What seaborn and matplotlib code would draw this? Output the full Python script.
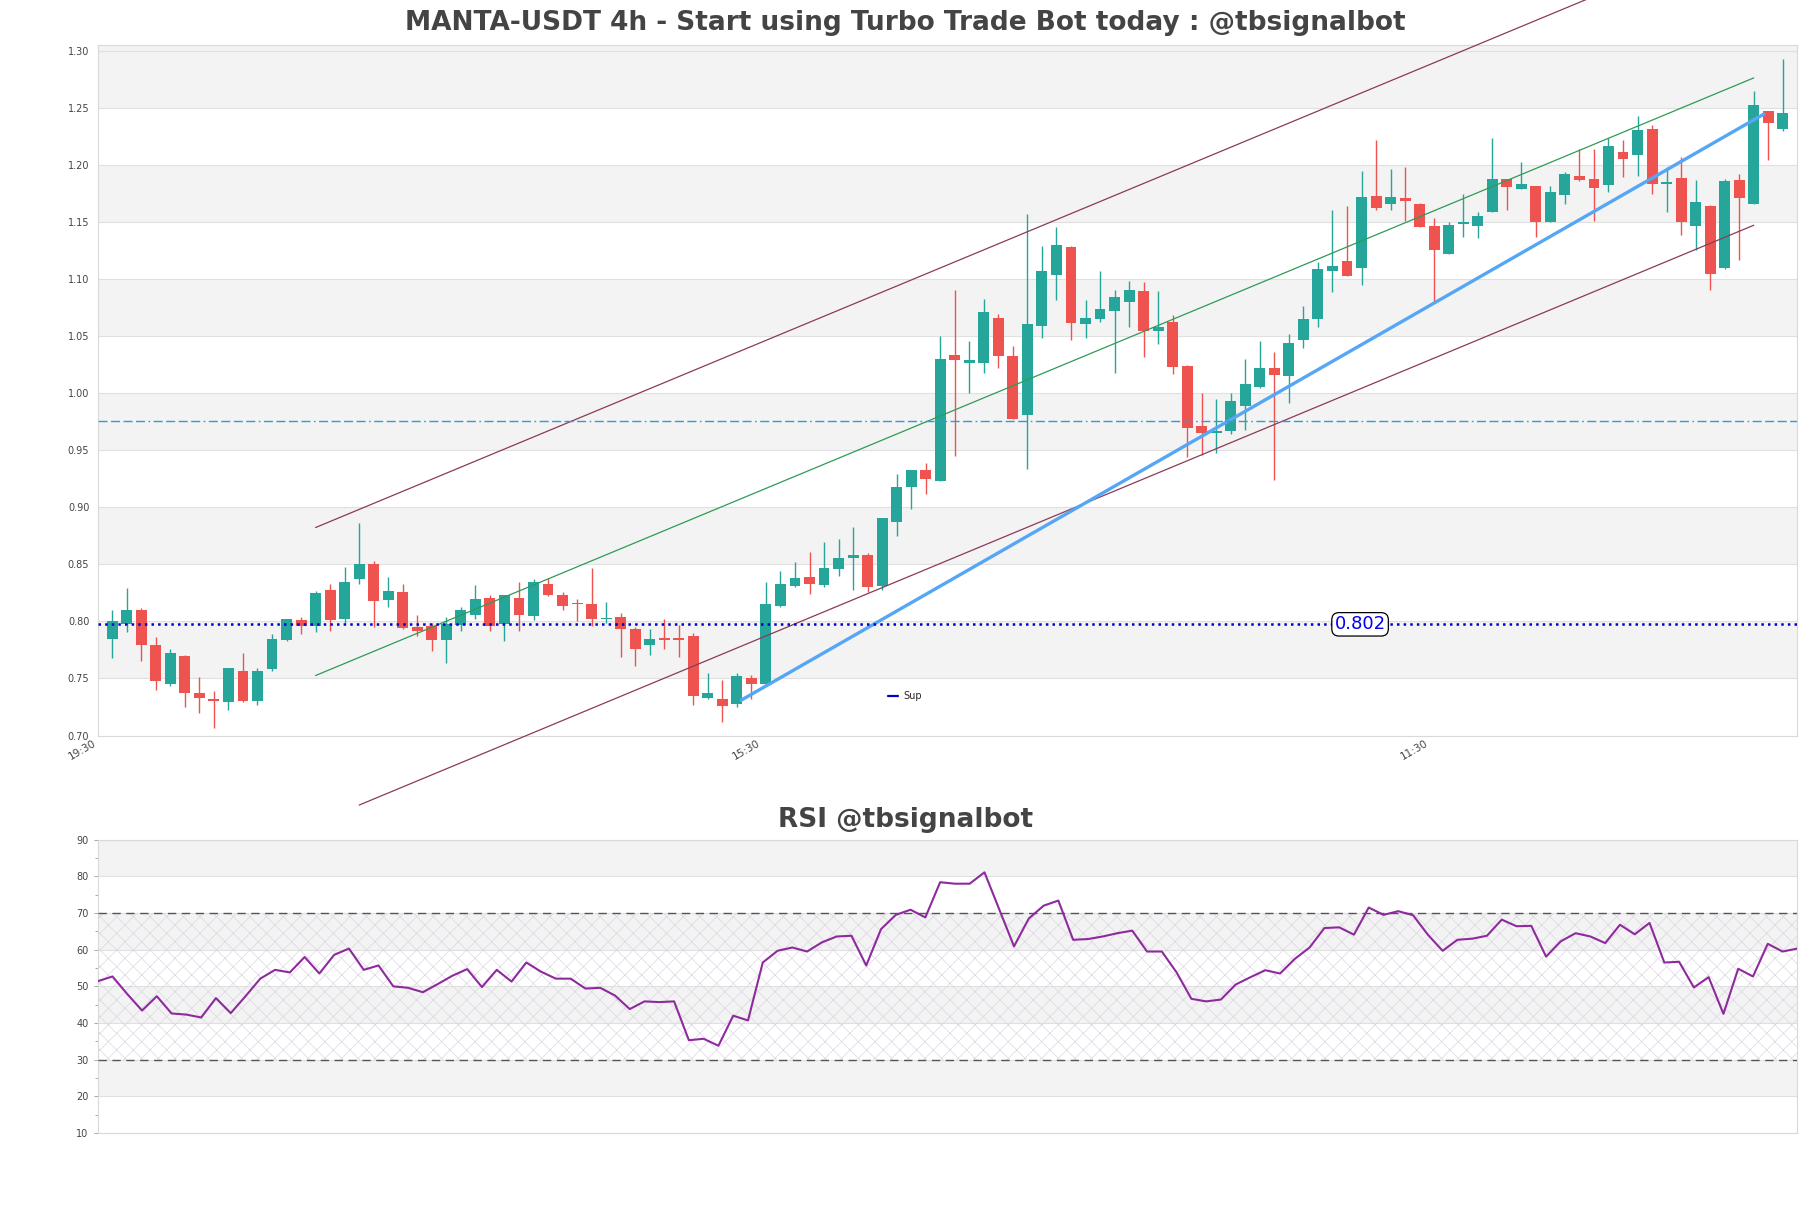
import numpy as np
import pandas as pd
import matplotlib
matplotlib.use("Agg")
import matplotlib.pyplot as plt
import seaborn as sns

# ---------------- data ----------------
opens = [0.785, 0.798, 0.810, 0.779, 0.745, 0.770, 0.737, 0.732, 0.729, 0.757,
         0.730, 0.758, 0.784, 0.801, 0.796, 0.828, 0.802, 0.837, 0.850, 0.819,
         0.826, 0.795, 0.796, 0.784, 0.797, 0.806, 0.821, 0.798, 0.821, 0.805,
         0.833, 0.823, 0.816, 0.815, 0.802, 0.804, 0.793, 0.779, 0.785, 0.785,
         0.787, 0.733, 0.732, 0.728, 0.750, 0.745, 0.814, 0.831, 0.839, 0.832,
         0.846, 0.856, 0.858, 0.831, 0.887, 0.918, 0.933, 0.923, 1.034, 1.027,
         1.027, 1.066, 1.033, 0.981, 1.059, 1.104, 1.128, 1.061, 1.065, 1.072,
         1.080, 1.090, 1.055, 1.063, 1.024, 0.971, 0.965, 0.967, 0.989, 1.006,
         1.022, 1.015, 1.047, 1.065, 1.107, 1.116, 1.110, 1.173, 1.166, 1.171,
         1.166, 1.147, 1.122, 1.149, 1.147, 1.159, 1.188, 1.179, 1.182, 1.150,
         1.174, 1.191, 1.188, 1.183, 1.212, 1.209, 1.232, 1.184, 1.189, 1.147,
         1.164, 1.110, 1.187, 1.166, 1.248, 1.232]
highs = [0.810, 0.829, 0.812, 0.786, 0.776, 0.771, 0.751, 0.739, 0.759, 0.772,
         0.759, 0.789, 0.802, 0.804, 0.827, 0.833, 0.848, 0.886, 0.853, 0.839,
         0.833, 0.806, 0.799, 0.804, 0.813, 0.832, 0.823, 0.823, 0.835, 0.837,
         0.838, 0.826, 0.820, 0.847, 0.817, 0.807, 0.795, 0.793, 0.802, 0.797,
         0.790, 0.755, 0.749, 0.755, 0.753, 0.835, 0.844, 0.852, 0.861, 0.870,
         0.872, 0.883, 0.860, 0.891, 0.929, 0.933, 0.939, 1.050, 1.091, 1.046,
         1.083, 1.070, 1.042, 1.157, 1.129, 1.146, 1.129, 1.082, 1.107, 1.091,
         1.099, 1.098, 1.090, 1.069, 1.025, 1.000, 0.995, 1.000, 1.030, 1.046,
         1.036, 1.052, 1.077, 1.115, 1.161, 1.164, 1.195, 1.222, 1.197, 1.199,
         1.167, 1.154, 1.150, 1.175, 1.159, 1.224, 1.188, 1.203, 1.182, 1.182,
         1.194, 1.214, 1.214, 1.224, 1.222, 1.243, 1.235, 1.199, 1.207, 1.187,
         1.165, 1.188, 1.192, 1.265, 1.248, 1.293]
lows = [0.768, 0.791, 0.765, 0.740, 0.743, 0.725, 0.720, 0.707, 0.722, 0.729,
        0.727, 0.757, 0.783, 0.789, 0.791, 0.792, 0.799, 0.833, 0.795, 0.813,
        0.793, 0.787, 0.774, 0.764, 0.792, 0.802, 0.792, 0.783, 0.792, 0.801,
        0.822, 0.810, 0.800, 0.796, 0.799, 0.769, 0.761, 0.771, 0.776, 0.769,
        0.727, 0.732, 0.712, 0.725, 0.732, 0.744, 0.813, 0.830, 0.824, 0.830,
        0.840, 0.828, 0.826, 0.828, 0.875, 0.899, 0.912, 0.923, 0.945, 1.000,
        1.018, 1.022, 0.978, 0.934, 1.049, 1.082, 1.047, 1.049, 1.063, 1.018,
        1.058, 1.032, 1.043, 1.017, 0.944, 0.946, 0.948, 0.964, 0.968, 1.005,
        0.924, 0.992, 1.040, 1.058, 1.089, 1.103, 1.095, 1.161, 1.161, 1.151,
        1.146, 1.079, 1.122, 1.137, 1.136, 1.159, 1.161, 1.179, 1.137, 1.150,
        1.166, 1.186, 1.151, 1.177, 1.190, 1.191, 1.175, 1.159, 1.139, 1.126,
        1.091, 1.109, 1.117, 1.166, 1.205, 1.230]
closes = [0.800, 0.810, 0.779, 0.748, 0.772, 0.737, 0.733, 0.730, 0.759, 0.730,
          0.757, 0.785, 0.802, 0.796, 0.825, 0.801, 0.835, 0.850, 0.818, 0.827,
          0.794, 0.792, 0.784, 0.798, 0.810, 0.820, 0.796, 0.823, 0.806, 0.835,
          0.823, 0.814, 0.815, 0.802, 0.803, 0.793, 0.776, 0.785, 0.784, 0.784,
          0.735, 0.737, 0.726, 0.752, 0.745, 0.815, 0.833, 0.838, 0.833, 0.847,
          0.856, 0.858, 0.830, 0.891, 0.918, 0.933, 0.925, 1.030, 1.029, 1.029,
          1.071, 1.033, 0.978, 1.061, 1.107, 1.130, 1.062, 1.066, 1.074, 1.085,
          1.091, 1.055, 1.058, 1.023, 0.970, 0.965, 0.967, 0.993, 1.008, 1.022,
          1.016, 1.044, 1.065, 1.109, 1.112, 1.103, 1.172, 1.163, 1.172, 1.169,
          1.146, 1.126, 1.148, 1.150, 1.156, 1.188, 1.181, 1.184, 1.150, 1.177,
          1.192, 1.187, 1.180, 1.217, 1.206, 1.231, 1.184, 1.185, 1.150, 1.168,
          1.105, 1.186, 1.171, 1.253, 1.237, 1.246]
rsi = [51.4, 52.7, 47.9, 43.4, 47.3, 42.6, 42.3, 41.5, 46.8, 42.7,
       47.3, 52.1, 54.5, 53.8, 58.0, 53.5, 58.6, 60.3, 54.5, 55.7,
       50.0, 49.6, 48.4, 50.6, 52.9, 54.7, 49.8, 54.5, 51.3, 56.5,
       54.0, 52.1, 52.1, 49.4, 49.6, 47.5, 43.8, 45.9, 45.7, 45.9,
       35.3, 35.7, 33.8, 42.0, 40.7, 56.5, 59.7, 60.6, 59.5, 62.0,
       63.6, 63.8, 55.7, 65.6, 69.5, 70.9, 68.8, 78.4, 78.0, 78.0,
       81.1, 71.0, 60.9, 68.5, 72.0, 73.4, 62.7, 62.9, 63.6, 64.5,
       65.2, 59.5, 59.5, 53.8, 46.6, 45.9, 46.4, 50.5, 52.5, 54.4,
       53.5, 57.5, 60.6, 65.9, 66.1, 64.1, 71.5, 69.5, 70.5, 69.4,
       64.1, 59.7, 62.7, 63.0, 63.8, 68.2, 66.4, 66.5, 58.1, 62.3,
       64.5, 63.6, 61.8, 66.8, 64.2, 67.3, 56.5, 56.7, 49.7, 52.5,
       42.5, 54.8, 52.7, 61.6, 59.5, 60.3]

tick_positions = [-0.999, 44.7, 90.7]
tick_labels = ["19:30", "15:30", "11:30"]

sup_level = 0.7975
sup_text = "0.802"
sup_text_x = 85.9
res_level = 0.9756

mid_x = [14, 113]
mid_y = [0.7526, 1.2767]
upper_x = [14, 113]
upper_y = [0.8824, 1.4065]
lower_x = [17, 113]
lower_y = [0.6390, 1.1475]
trend_x = [43.3, 113.7]
trend_y = [0.731, 1.245]

title_main = "MANTA-USDT 4h - Start using Turbo Trade Bot today : @tbsignalbot"
title_rsi = "RSI @tbsignalbot"

# ---------------- style ----------------
sns.set_theme(style="white")
plt.rcParams["font.family"] = ["DejaVu Sans"]
plt.rcParams["hatch.linewidth"] = 0.5

UP = "#26a69a"
DOWN = "#ef5350"
BAND = "#f3f3f3"
GRID = "#e0e0e0"
SPINE = "#d9d9d9"
TXT = "#444444"

fig = plt.figure(figsize=(18.11, 12.08), dpi=100)
ax = fig.add_axes([0.05395, 0.39114, 0.9385, 0.57202])
ax2 = fig.add_axes([0.05395, 0.06209, 0.9385, 0.24279])

df = pd.DataFrame({"open": opens, "high": highs, "low": lows, "close": closes})
df["idx"] = np.arange(len(df))
df["up"] = df["close"] >= df["open"]
df["color"] = np.where(df["up"], UP, DOWN)
df["bottom"] = df[["open", "close"]].min(axis=1)
df["height"] = (df["close"] - df["open"]).abs().clip(lower=0.0012)

# ---------------- main axes ----------------
for lo in [0.75, 0.85, 0.95, 1.05, 1.15, 1.25]:
    hi = lo + 0.05 if lo < 1.25 else 1.306
    ax.axhspan(lo, hi, color=BAND, zorder=0, lw=0)
ax.set_yticks(np.round(np.arange(0.70, 1.301, 0.05), 2))
ax.yaxis.set_major_formatter(matplotlib.ticker.FormatStrFormatter("%.2f"))
ax.grid(axis="y", color=GRID, lw=0.8, zorder=0.5)
ax.set_axisbelow(True)

ax.vlines(df["idx"], df["low"], df["high"], colors=df["color"], lw=1.0, zorder=2)
ax.bar(df["idx"], df["height"], bottom=df["bottom"], width=0.75,
       color=df["color"], lw=0, zorder=3)

# channel lines
sns.lineplot(x=upper_x, y=upper_y, ax=ax, color="#8b3a5a", lw=0.9, clip_on=False, zorder=4)
sns.lineplot(x=mid_x, y=mid_y, ax=ax, color="#2e9b55", lw=0.9, zorder=4)
sns.lineplot(x=lower_x, y=lower_y, ax=ax, color="#8b3a5a", lw=0.9, clip_on=False, zorder=4)
sns.lineplot(x=trend_x, y=trend_y, ax=ax, color="#55a6f5", lw=2.4, zorder=4)

ax.axhline(res_level, color="#2a9fd6", lw=1.0,
           dashes=(6.5, 2.5, 6.5, 2.5, 6.5, 2.5, 6.5, 2.5, 1.2, 2.5), zorder=4)
ax.axhline(sup_level, color="#0000cc", lw=1.8, ls=":", zorder=4, label="Sup")
ax.text(sup_text_x, sup_level, sup_text, ha="center", va="center", fontsize=13,
        color="#0000ee", zorder=6,
        bbox=dict(boxstyle="round,pad=0.15,rounding_size=0.4", fc="white", ec="black", lw=0.9))

ax.legend(handles=[matplotlib.lines.Line2D([], [], color="#0000cc", lw=1.6)],
          labels=["Sup"], loc="center", bbox_to_anchor=(0.475, 0.057),
          frameon=False, fontsize=7, handlelength=1.0, handletextpad=0.6)

ax.set_xticks(tick_positions)
ax.set_xticklabels(tick_labels, rotation=30, ha="right", fontsize=7.5, color=TXT)
ax.set_xlim(-1, 116)
ax.set_ylim(0.70, 1.306)
ax.tick_params(axis="y", labelsize=7, labelcolor=TXT, length=0, pad=6)
ax.tick_params(axis="x", length=0, pad=2)
ax.set_xlabel("")
ax.set_ylabel("")
for s in ax.spines.values():
    s.set_color(SPINE)
    s.set_linewidth(0.8)

# ---------------- RSI axes ----------------
x_rsi = np.arange(len(rsi))
for lo in [20, 40, 60, 80]:
    ax2.axhspan(lo, lo + 10, color=BAND, zorder=0, lw=0)
ax2.fill_between(x_rsi, 30, 70, facecolor="none", edgecolor="#dcd6e2",
                 hatch="xx", lw=0, zorder=1)
ax2.set_yticks(np.arange(10, 91, 10))
ax2.set_yticks(np.arange(15, 90, 10), minor=True)
ax2.grid(axis="y", which="major", color=GRID, lw=0.8, zorder=0.5)
ax2.set_axisbelow(True)
ax2.axhline(70, color="#555555", lw=1.0, dashes=(6, 4), zorder=3)
ax2.axhline(30, color="#555555", lw=1.0, dashes=(6, 4), zorder=3)
sns.lineplot(x=x_rsi, y=rsi, ax=ax2, color="#8e2a9e", lw=1.5, zorder=4)
ax2.set_xticks([])
ax2.set_xlim(0, len(rsi) - 1)
ax2.set_ylim(10, 90)
ax2.tick_params(axis="y", which="major", labelsize=7, labelcolor=TXT, length=3,
                color="#999999", width=0.6, left=True)
ax2.tick_params(axis="y", which="minor", length=2, color="#999999", width=0.6, left=True)
ax2.set_xlabel("")
ax2.set_ylabel("")
for s in ax2.spines.values():
    s.set_color(SPINE)
    s.set_linewidth(0.8)

fig.text(0.5, 1 - 23 / 1208, title_main, ha="center", va="center",
         fontsize=19, fontweight="bold", color=TXT)
fig.text(0.5, 1 - 820 / 1208, title_rsi, ha="center", va="center",
         fontsize=19, fontweight="bold", color=TXT)

fig.savefig("out.png", dpi=100)
